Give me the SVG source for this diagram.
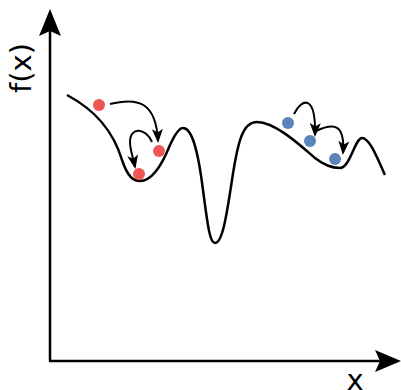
<svg xmlns="http://www.w3.org/2000/svg" width="401" height="390" viewBox="0 0 401 390">
<style>
.axis{stroke:#000;stroke-width:2.5;fill:none}
.curve{stroke:#000;stroke-width:2.5;fill:none}
.jump{stroke:#000;stroke-width:2;fill:none;marker-end:url(#ah)}
.red{fill:#ee5555}
.blue{fill:#5a84ba}
.lbl{font-family:"DejaVu Sans",Verdana,sans-serif;font-size:29px;fill:#000}
</style>
<defs>
<marker id="ah" markerWidth="14" markerHeight="12" refX="12" refY="6" orient="auto" markerUnits="userSpaceOnUse" viewBox="0 0 14 12">
<path d="M0,0.5 L14,6 L0,11.5 L3.5,6 Z" fill="#000"/>
</marker>
</defs>
<g id="axes">
<path class="axis" d="M50,361 L50,30"/>
<path d="M50,9 L61,36 L50,31 L39,36 Z" fill="#000"/>
<path class="axis" d="M49,361 L380,361"/>
<path d="M401,361 L375,372 L380,361 L375,350 Z" fill="#000"/>
</g>
<g id="labels">
<text class="lbl" x="0" y="0" transform="translate(21,68) rotate(-90)" text-anchor="middle" dominant-baseline="central">f(x)</text>
<text class="lbl" x="355" y="390" text-anchor="middle">x</text>
</g>
<g id="function">
<path class="curve" d="M67,95 C95,110 113,130 122,160 C128,178 134,181 140,181 C152,181 162,165 170,145 C176,132 180,128 183,128 C192,128 198,150 203,190 C208,228 210,243 215,243 C222,243 226,220 232,180 C238,140 243,122 257,122 C275,122 300,145 315,158 C325,166 332,168 340,168 C350,168 355,138 362,138 C370,138 378,160 385,175"/>
</g>
<g id="connectors">
<path class="jump" d="M110,104 C138,97 156,102 158,141"/>
<path class="jump" d="M152,142 C146,128 130,126 130,142 C130,150 133,157 135,167"/>
<path class="jump" d="M294,114 C302,98 316,94 315,135"/>
<path class="jump" d="M316,131 C335,122 345,125 343,153"/>
</g>
<g id="points">
<circle class="red" cx="99" cy="105" r="6"/>
<circle class="red" cx="159" cy="151" r="6"/>
<circle class="red" cx="139" cy="174" r="6"/>
<circle class="blue" cx="288" cy="123" r="6"/>
<circle class="blue" cx="310" cy="141" r="6"/>
<circle class="blue" cx="335" cy="159" r="6"/>
</g>
</svg>
